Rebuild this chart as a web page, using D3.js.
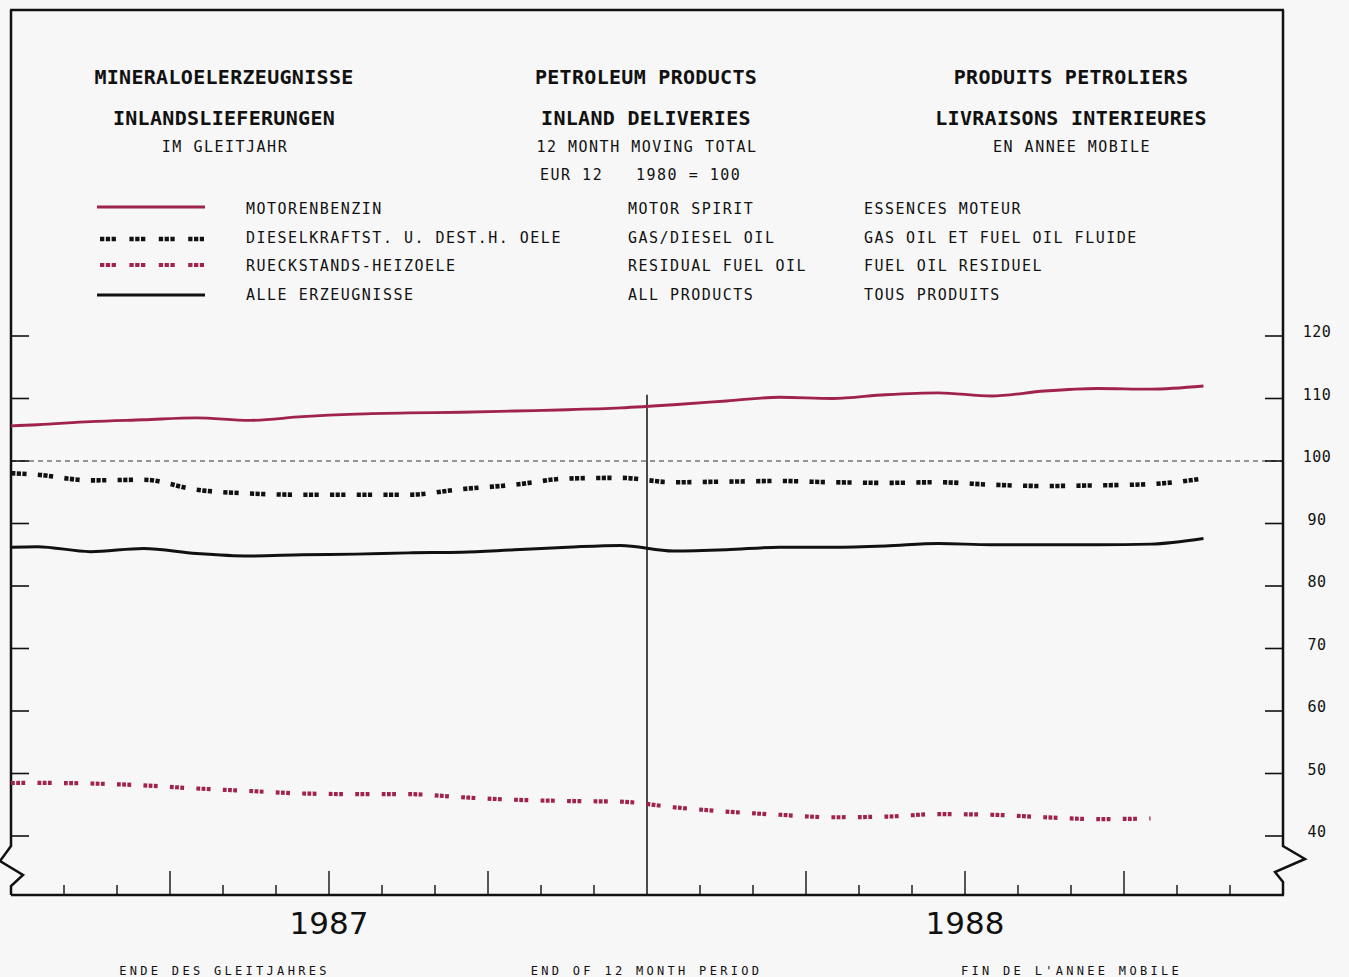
<!DOCTYPE html>
<html>
<head>
<meta charset="utf-8">
<script src="https://cdn.jsdelivr.net/npm/d3@7"></script>
<style>
  html, body { margin: 0; padding: 0; background: #f7f7f7; }
  svg { display: block; }
  .mono { font-family: "DejaVu Sans Mono", monospace; fill: #111; }
</style>
</head>
<body>
<svg id="chart" width="1349" height="977"></svg>
<script>
// ---------- data ----------
const months = ["1986-12","1987-01","1987-02","1987-03","1987-04","1987-05","1987-06",
  "1987-07","1987-08","1987-09","1987-10","1987-11","1987-12","1988-01","1988-02",
  "1988-03","1988-04","1988-05","1988-06","1988-07","1988-08","1988-09","1988-10","1988-11"];
const motorSpirit = [105.5,105.8,106.3,106.6,106.9,106.5,107.1,107.5,107.7,107.8,108.0,108.2,
  108.5,109.0,109.6,110.2,110.0,110.6,110.9,110.4,111.2,111.6,111.5,112.0];
const gasDiesel = [98.2,97.8,96.9,97.0,95.4,94.8,94.6,94.6,94.6,95.5,96.2,97.2,
  97.3,96.6,96.7,96.8,96.6,96.5,96.6,96.2,96.0,96.1,96.3,97.2];
const residual = [48.4,48.5,48.4,48.1,47.6,47.2,46.8,46.7,46.7,46.2,45.8,45.6,
  45.5,44.6,43.9,43.4,43.0,43.1,43.5,43.4,43.0,42.7,42.8];
const allProducts = [86.0,86.3,85.5,86.0,85.2,84.8,85.0,85.1,85.3,85.4,85.8,86.2,
  86.5,85.6,85.8,86.2,86.2,86.4,86.8,86.6,86.6,86.6,86.7,87.6];
const yTicks = [40,50,60,70,80,90,100,110,120];
const years = ["1987","1988"];
const titleDE = ["MINERALOELERZEUGNISSE","INLANDSLIEFERUNGEN","IM GLEITJAHR"];
const titleEN = ["PETROLEUM PRODUCTS","INLAND DELIVERIES","12 MONTH MOVING TOTAL"];
const titleFR = ["PRODUITS PETROLIERS","LIVRAISONS INTERIEURES","EN ANNEE MOBILE"];
const baseLabelEUR = "EUR 12", baseLabelIdx = "1980 = 100";
const legendDE = ["MOTORENBENZIN","DIESELKRAFTST. U. DEST.H. OELE","RUECKSTANDS-HEIZOELE","ALLE ERZEUGNISSE"];
const legendEN = ["MOTOR SPIRIT","GAS/DIESEL OIL","RESIDUAL FUEL OIL","ALL PRODUCTS"];
const legendFR = ["ESSENCES MOTEUR","GAS OIL ET FUEL OIL FLUIDE","FUEL OIL RESIDUEL","TOUS PRODUITS"];
const footer = ["ENDE DES GLEITJAHRES","END OF 12 MONTH PERIOD","FIN DE L'ANNEE MOBILE"];

(function draw() {
// ---------- layout ----------
const RED = "#a0234b";
const pL = 11, pR = 1283, pT = 10, pB = 895;
const svg = d3.select("#chart");

// months counted from Jan 1987 (0) ; values plotted at mid-month
const monthIndex = s => { const [yy,m] = s.split("-").map(Number); return (yy-1987)*12 + (m-1) + 0.5; };
const x = d3.scaleLinear().domain([0, 24]).range([pL, pR]);
const y = d3.scaleLinear().domain([40,120]).range([836,336]);

// clip
svg.append("defs").append("clipPath").attr("id","plot")
  .append("rect").attr("x",pL).attr("y",pT).attr("width",pR-pL).attr("height",pB-pT);

// reference 100 line
svg.append("line").attr("x1",pL).attr("x2",pR).attr("y1",y(100)).attr("y2",y(100))
  .attr("stroke","#333").attr("stroke-width",1).attr("stroke-dasharray","5,4");

// frame
const frame = svg.append("g").attr("fill","none").attr("stroke","#111").attr("stroke-width",2.5)
  .attr("stroke-linejoin","miter");
frame.append("line").attr("x1",pL-1).attr("x2",pR+1).attr("y1",pT).attr("y2",pT);
frame.append("path").attr("d", d3.line()([[pL,pT],[pL,846],[0,861],[23,875],[pL,886],[pL,pB]]));
frame.append("path").attr("d", d3.line()([[pR,pT],[pR,846],[1305,859],[1275,872],[pR,882],[pR,pB]]));
frame.append("line").attr("x1",pL).attr("x2",pR+1).attr("y1",pB).attr("y2",pB);

// y ticks (both sides, inward) and right labels
const yt = svg.append("g").attr("stroke","#111").attr("stroke-width",1.6);
yTicks.forEach(v => {
  yt.append("line").attr("x1",pL).attr("x2",pL+18).attr("y1",y(v)).attr("y2",y(v));
  yt.append("line").attr("x1",pR-18).attr("x2",pR).attr("y1",y(v)).attr("y2",y(v));
});
svg.append("g").selectAll("text").data(yTicks).join("text")
  .attr("class","mono").attr("x",1317).attr("y",v=>y(v)+1).attr("text-anchor","middle")
  .attr("font-size",15).attr("letter-spacing",0.5).text(d=>d);

// x ticks (month boundaries) on bottom axis
const monthTicks = d3.range(1, 24).filter(m => m !== 12);
svg.append("g").attr("stroke","#111").attr("stroke-width",1.4).selectAll("line")
  .data(monthTicks).join("line")
  .attr("x1",d=>x(d)).attr("x2",d=>x(d)).attr("y1",pB)
  .attr("y2",d => d%3===0 ? pB-24 : pB-10);

// year separator
svg.append("line").attr("x1",x(12)).attr("x2",x(12))
  .attr("y1",y(110.6)).attr("y2",pB).attr("stroke","#111").attr("stroke-width",1.5);

// year labels
svg.append("g").selectAll("text").data(years).join("text")
  .attr("x",(d,i)=>x(6 + 12*i)).attr("y",934).attr("text-anchor","middle")
  .attr("font-family","DejaVu Sans, sans-serif").attr("font-size",31).attr("fill","#111")
  .text(d=>d);

// footer
const footX = [223, 645, 1070];
svg.append("g").selectAll("text").data(footer).join("text")
  .attr("class","mono").attr("x",(d,i)=>footX[i]+1.5).attr("y",975).attr("text-anchor","middle")
  .attr("font-size",12).attr("letter-spacing",3.3).text(d=>d);

// titles
const colX = [224, 646, 1071];
[titleDE, titleEN, titleFR].forEach((t,ci) => {
  const g = svg.append("g");
  g.append("text").attr("class","mono").attr("x",colX[ci]).attr("y",84).attr("text-anchor","middle")
    .attr("font-size",20).attr("font-weight","bold").attr("letter-spacing",0.3).text(t[0]);
  g.append("text").attr("class","mono").attr("x",colX[ci]).attr("y",125).attr("text-anchor","middle")
    .attr("font-size",20).attr("font-weight","bold").attr("letter-spacing",0.3).text(t[1]);
  g.append("text").attr("class","mono").attr("x",colX[ci]+1).attr("y",152).attr("text-anchor","middle")
    .attr("font-size",15).attr("letter-spacing",1.5).text(t[2]);
});
svg.append("text").attr("class","mono").attr("x",540).attr("y",180)
  .attr("font-size",15).attr("letter-spacing",1.5).text(baseLabelEUR);
svg.append("text").attr("class","mono").attr("x",636).attr("y",180)
  .attr("font-size",15).attr("letter-spacing",1.5).text(baseLabelIdx);

// series styles
const styles = [
  {data: motorSpirit, color: RED, width: 2.8, dash: null, legDash: null},
  {data: gasDiesel, color: "#111", width: 4.6, dash: "4.2,1.4,4.2,1.4,4.2,11.3", legDash: "4.3,1.5,4.3,1.5,4.3,13.5"},
  {data: residual, color: RED, width: 4.2, dash: "3.8,1.4,3.8,1.4,3.8,12.3", legDash: "4.3,1.5,4.3,1.5,4.3,13.5"},
  {data: allProducts, color: "#111", width: 3, dash: null, legDash: null}
];

// legend
const legY = [207, 239, 265, 295];
const legTextY = [214, 243, 271, 300];
styles.forEach((s,i) => {
  svg.append("line").attr("x1", s.legDash ? 100 : 97).attr("x2", s.legDash ? 204 : 205)
    .attr("y1",legY[i]).attr("y2",legY[i])
    .attr("stroke",s.color).attr("stroke-width",s.width).attr("stroke-dasharray",s.legDash);
  [[246,legendDE],[628,legendEN],[864,legendFR]].forEach(([lx,arr]) => {
    svg.append("text").attr("class","mono").attr("x",lx).attr("y",legTextY[i])
      .attr("font-size",15).attr("letter-spacing",1.5).text(arr[i]);
  });
});

// lines
const line = d3.line().x((d,i)=>x(monthIndex(months[i]))).y(d=>y(d)).curve(d3.curveMonotoneX);
const plot = svg.append("g").attr("clip-path","url(#plot)");
styles.forEach(s => {
  plot.append("path").attr("d", line(s.data)).attr("fill","none")
    .attr("stroke",s.color).attr("stroke-width",s.width)
    .attr("stroke-dasharray",s.dash).attr("stroke-linejoin","round");
});
})();
</script>
</body>
</html>
